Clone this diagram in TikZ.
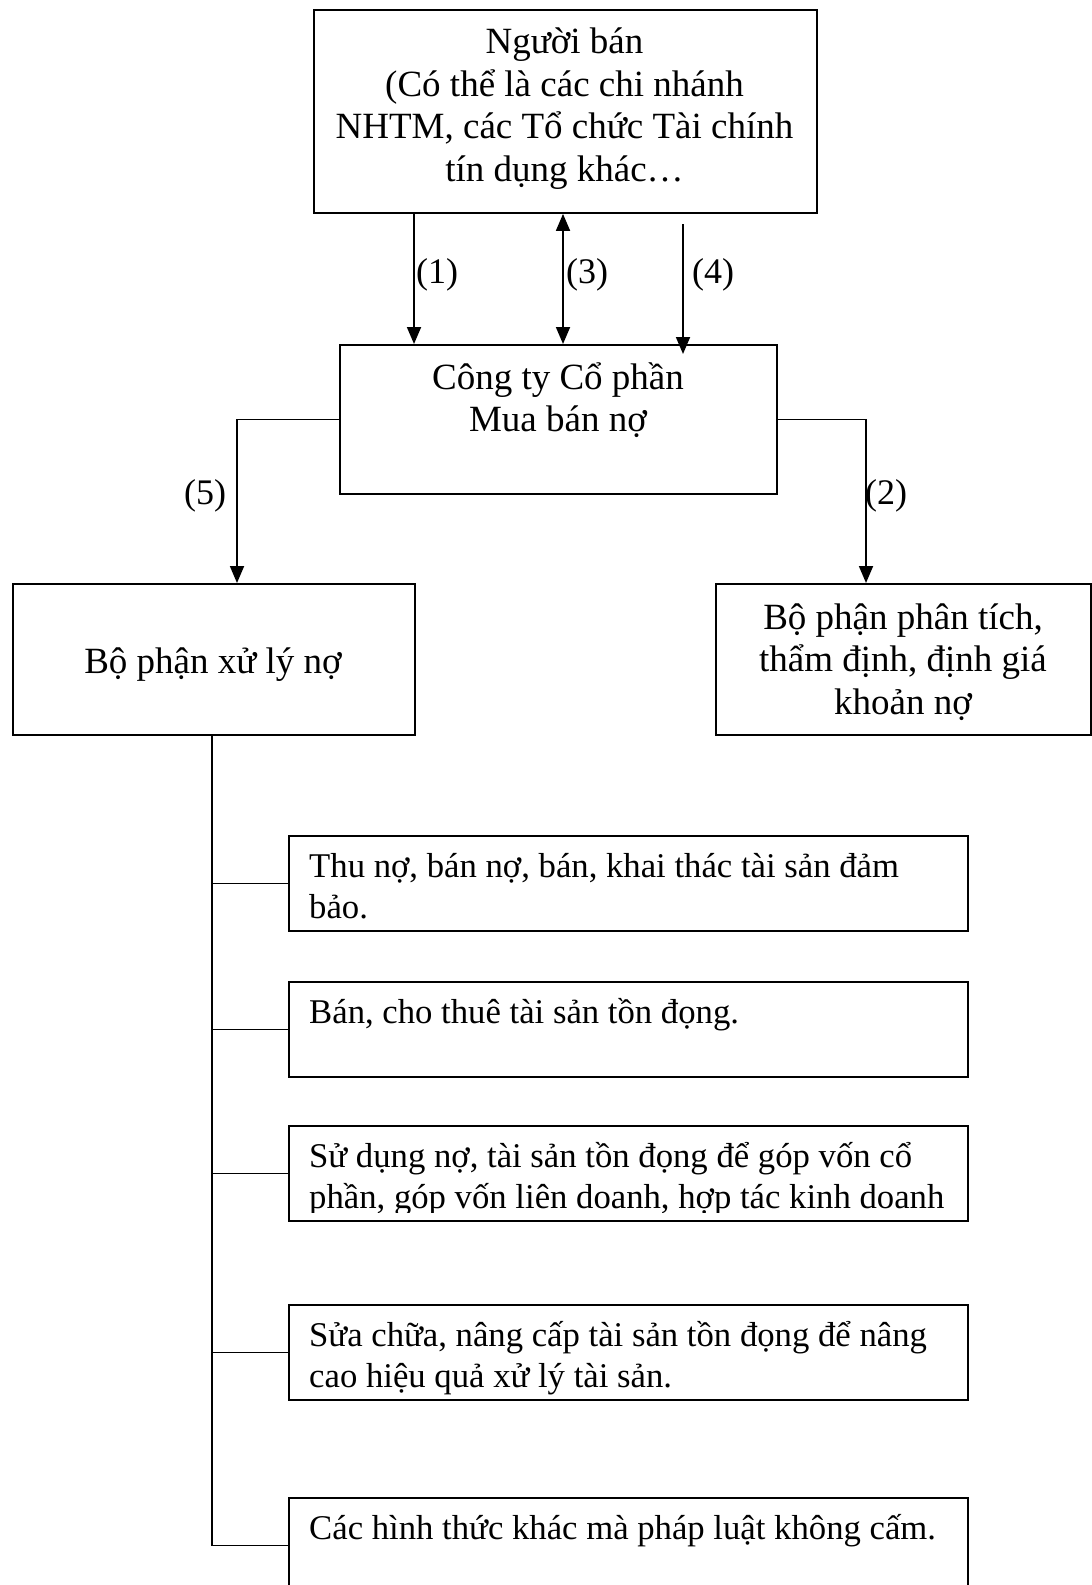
\documentclass[tikz,border=0pt]{standalone}
\usepackage{fontspec}
\setmainfont{Liberation Serif}
\usetikzlibrary{arrows.meta}
\newcommand\firstln{\rule{0pt}{38pt}}
\setlength{\lineskiplimit}{-100pt}
\begin{document}
\begin{tikzpicture}[x=1pt,y=-1pt,
  box/.style={draw, line width=1.9pt, inner sep=0pt, anchor=north west},
  txt/.style={inner sep=0pt, font=\fontsize{37}{42.5}\selectfont},
  ctxt/.style={txt, align=center, anchor=north},
  ltxt/.style={inner sep=0pt, font=\fontsize{34.7}{41}\selectfont, align=left, anchor=north west},
  num/.style={inner sep=0pt, font=\fontsize{36}{40}\selectfont},
  conn/.style={line width=1.8pt},
  arr/.style={conn, -{Triangle[length=17pt,width=14pt]}},
  darr/.style={conn, {Triangle[length=17pt,width=14pt]}-{Triangle[length=17pt,width=14pt]}},
]
\useasboundingbox[fill=white] (0,0) rectangle (1092,1585);

% boxes
\node[box, minimum width=503pt, minimum height=203pt] (seller) at (313,9) {};
\node[box, minimum width=437pt, minimum height=149pt] (company) at (339,344) {};
\node[box, minimum width=402pt, minimum height=151pt] (debt) at (12,583) {};
\node[box, minimum width=375pt, minimum height=151pt] (analysis) at (715,583) {};
\node[box, minimum width=679pt, minimum height=95pt] (b1) at (288,835) {};
\node[box, minimum width=679pt, minimum height=95pt] (b2) at (288,981) {};
\node[box, minimum width=679pt, minimum height=95pt] (b3) at (288,1125) {};
\node[box, minimum width=679pt, minimum height=95pt] (b4) at (288,1304) {};
\node[box, minimum width=679pt, minimum height=95pt] (b5) at (288,1497) {};

% texts
\node[ctxt] (sellertxt) at (564.5,15.5) {\firstln Người bán\\(Có thể là các chi nhánh\\NHTM, các Tổ chức Tài chính\\tín dụng khác…};
\node[ctxt] (companytxt) at (558,351) {\firstln Công ty Cổ phần\\Mua bán nợ};
\node[ctxt] (debttxt) at (213,635) {\firstln Bộ phận xử lý nợ};
\node[ctxt] (analysistxt) at (903,591) {\firstln Bộ phận phân tích,\\thẩm định, định giá\\khoản nợ};
\node[ltxt] (t1) at (309,839) {\firstln Thu nợ, bán nợ, bán, khai thác tài sản đảm\\bảo.};
\node[ltxt] (t2) at (309,985) {\firstln Bán, cho thuê tài sản tồn đọng.};
\begin{scope}
\clip (b3.north west) rectangle ([yshift=9pt]b3.south east);
\node[ltxt] (t3) at (309,1129) {\firstln Sử dụng nợ, tài sản tồn đọng để góp vốn cổ\\phần, góp vốn liên doanh, hợp tác kinh doanh};
\end{scope}
\node[ltxt] (t4) at (309,1308) {\firstln Sửa chữa, nâng cấp tài sản tồn đọng để nâng\\cao hiệu quả xử lý tài sản.};
\node[ltxt] (t5) at (309,1501) {\firstln Các hình thức khác mà pháp luật không cấm.};

% helper coordinates
\coordinate (x1) at (414,0);
\coordinate (x3) at (563,0);
\coordinate (x5) at (237,0);
\coordinate (x2) at (866,0);
\coordinate (xt) at (212,0);
\coordinate (a4s) at (683,224);
\coordinate (a4e) at (683,354);

% connectors
\draw[arr] (seller.south -| x1) -- (company.north -| x1);
\draw[darr] (seller.south -| x3) -- (company.north -| x3);
\draw[arr] (a4s) -- (a4e);
\draw[arr] (company.west) -| (x5 |- debt.north);
\draw[arr] (company.east) -| (x2 |- analysis.north);
\draw[conn] (debt.south -| xt) -- (xt |- b5.west) -- (b5.west);
\foreach \b in {b1,b2,b3,b4} \draw[conn] (xt |- \b.west) -- (\b.west);

% labels
\node[num] (l1) at (437,275) {(1)};
\node[num] (l3) at (587,275) {(3)};
\node[num] (l4) at (713,275) {(4)};
\node[num] (l5) at (205,496) {(5)};
\node[num] (l2) at (886,496) {(2)};
\end{tikzpicture}
\end{document}
